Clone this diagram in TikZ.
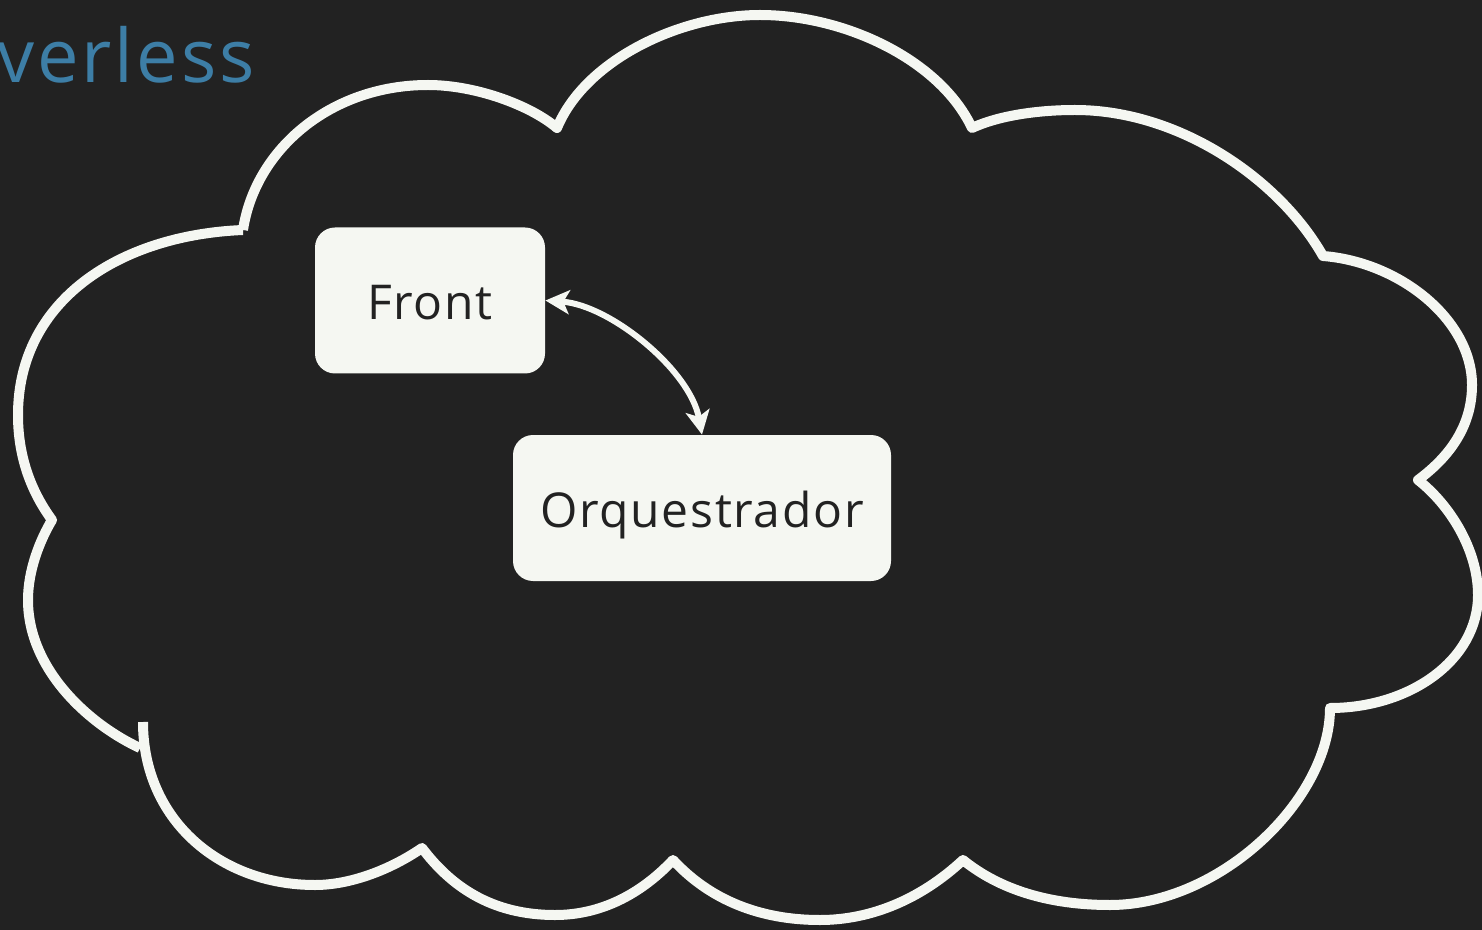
\documentclass[tikz,border=0pt]{standalone}
\usepackage{fontspec}
\setmainfont{Open Sans}
\newfontfamily\spacedfont[LetterSpace=3.5]{Open Sans}
\newfontfamily\titlefont[LetterSpace=4]{Open Sans}
\usetikzlibrary{arrows.meta}
\definecolor{bg}{HTML}{222222}
\definecolor{fg}{HTML}{F5F7F2}
\definecolor{ink}{HTML}{222222}
\definecolor{titleblue}{HTML}{3D7EA6}
\tikzset{
  cloudline/.style={draw=fg, line width=5pt, line join=round},
  box/.style={fill=fg, rounded corners=10pt, inner sep=0pt, text=ink, text depth=0pt, font=\spacedfont\fontsize{24}{28}\selectfont},
  link/.style={draw=fg, line width=3pt, {Stealth[length=12pt,width=12pt,inset=3pt]}-{Stealth[length=12pt,width=12pt,inset=3pt]}},
}
\begin{document}
\begin{tikzpicture}[x=0.5pt,y=-0.5pt]
\useasboundingbox[clip] (0,0) rectangle (1482,930);
\fill[bg] (0,0) rectangle (1482,930);
\node[anchor=base west, text=titleblue, font=\titlefont\fontsize{37}{40}\selectfont, inner sep=0pt] (title) at (-3,83) {verless};
\draw[cloudline]
  (243,230) .. controls (255,150) and (330,85) .. (428,85)
  .. controls (475,85) and (530,105) .. (557,128)
  .. controls (585,60) and (680,15) .. (760,15)
  .. controls (845,15) and (940,60) .. (972,128)
  .. controls (1000,115) and (1040,110) .. (1075,110)
  .. controls (1180,110) and (1280,180) .. (1323,256)
  .. controls (1400,262) and (1472,320) .. (1472,385)
  .. controls (1472,430) and (1445,460) .. (1418,480)
  .. controls (1450,505) and (1478,550) .. (1478,595)
  .. controls (1478,660) and (1410,708) .. (1330,708)
  .. controls (1330,800) and (1220,905) .. (1110,905)
  .. controls (1050,905) and (1000,890) .. (963,860)
  .. controls (920,900) and (870,920) .. (820,920)
  .. controls (760,920) and (710,900) .. (673,860)
  .. controls (640,895) and (600,915) .. (555,915)
  .. controls (490,915) and (450,885) .. (422,848)
  .. controls (390,870) and (350,885) .. (315,885)
  .. controls (220,885) and (143,820) .. (143,722)
  (140,748) .. controls (90,725) and (28,670) .. (28,600)
  .. controls (28,570) and (40,540) .. (52,520)
  .. controls (30,490) and (18,455) .. (18,415)
  .. controls (18,300) and (120,235) .. (243,230);
\node[box, text height=19.5pt, minimum width=115pt, minimum height=73pt] (front) at (430,300.5) {Front};
\node[box, text height=19pt, minimum width=189pt, minimum height=73pt] (orq) at (702,508) {Orquestrador};
\draw[link] (front.east) .. controls (610,305) and (690,370) .. (orq.north);
\end{tikzpicture}
\end{document}
